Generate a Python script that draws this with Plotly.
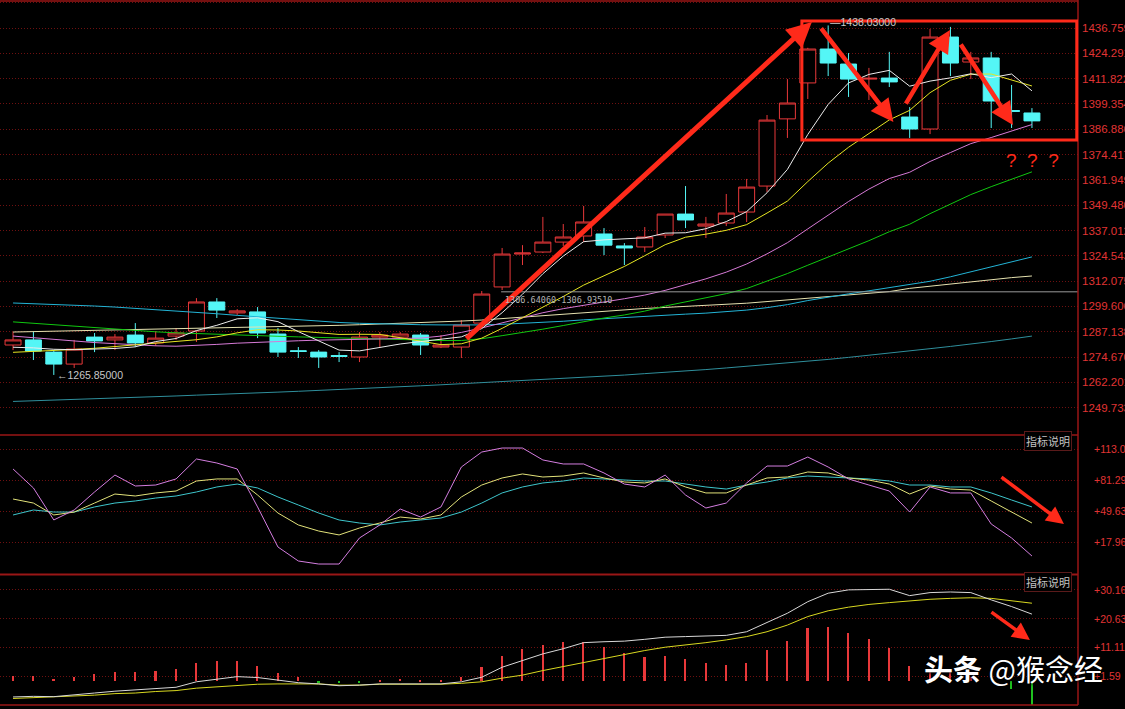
import plotly.graph_objects as go
from plotly.subplots import make_subplots

# bar number of each daily candle (left -> right)
bars = list(range(51))

opens = [1280.6, 1283.1, 1277.1, 1271.2, 1284.5, 1283.1, 1285.5, 1281.6, 1285.0, 1287.5,
         1301.8, 1296.4, 1296.9, 1286.0, 1277.8, 1277.1, 1275.4, 1274.7, 1284.5, 1284.5,
         1285.5, 1279.6, 1279.6, 1291.4, 1309.2, 1325.4, 1326.4, 1331.3, 1334.3, 1335.3,
         1329.4, 1328.9, 1334.8, 1345.1, 1339.2, 1340.7, 1346.1, 1358.9, 1392.0, 1409.7,
         1426.4, 1419.0, 1411.6, 1412.1, 1392.9, 1387.0, 1432.3, 1420.0, 1422.0, 1396.1, 1394.9]
highs = [1287.0, 1287.0, 1278.1, 1283.1, 1286.5, 1286.0, 1291.4, 1287.5, 1288.9, 1303.7,
         1303.7, 1298.3, 1299.3, 1289.0, 1279.6, 1278.1, 1277.1, 1287.0, 1287.0, 1287.0,
         1286.5, 1285.5, 1292.9, 1307.2, 1328.4, 1329.8, 1343.7, 1340.2, 1349.1, 1338.2,
         1330.8, 1338.7, 1345.1, 1358.9, 1343.7, 1355.0, 1362.4, 1393.9, 1411.6, 1427.0,
         1438.03, 1424.4, 1417.1, 1425.0, 1397.8, 1436.3, 1437.3, 1425.0, 1425.0, 1408.7, 1397.3]
lows = [1278.1, 1273.2, 1265.85, 1269.3, 1277.1, 1278.1, 1279.6, 1280.1, 1283.1, 1282.1,
        1293.9, 1295.4, 1284.0, 1274.7, 1274.2, 1269.3, 1272.2, 1272.2, 1279.6, 1283.1,
        1275.7, 1279.1, 1274.2, 1289.9, 1307.7, 1320.0, 1325.9, 1329.4, 1331.3, 1324.9,
        1320.0, 1326.4, 1333.3, 1338.2, 1333.3, 1339.2, 1341.2, 1356.0, 1382.6, 1401.8,
        1413.1, 1402.8, 1401.3, 1407.7, 1382.6, 1384.5, 1413.1, 1411.6, 1387.5, 1387.5, 1387.5]
closes = [1283.1, 1277.6, 1271.2, 1278.6, 1282.6, 1284.5, 1281.6, 1284.0, 1286.5, 1301.8,
          1297.8, 1297.4, 1286.5, 1277.1, 1277.4, 1274.7, 1275.0, 1284.5, 1285.5, 1286.0,
          1280.6, 1280.6, 1290.4, 1305.7, 1325.4, 1325.9, 1331.3, 1333.8, 1341.2, 1329.8,
          1328.4, 1333.8, 1345.1, 1342.2, 1340.2, 1345.6, 1358.4, 1391.4, 1399.8, 1426.4,
          1419.5, 1411.6, 1412.0, 1410.2, 1387.0, 1432.3, 1419.5, 1422.0, 1400.8, 1395.7, 1391.0]

# moving averages
ma5 = [1279.5, 1279.2, 1278.5, 1278.3, 1278.6, 1278.9, 1279.7, 1282.3, 1283.8, 1287.7,
       1290.3, 1293.5, 1294.0, 1292.1, 1287.2, 1282.6, 1278.1, 1277.7, 1279.4, 1281.1,
       1282.3, 1283.4, 1284.6, 1288.7, 1296.5, 1305.6, 1315.7, 1324.4, 1331.5, 1332.4,
       1332.9, 1333.4, 1335.7, 1335.9, 1337.9, 1341.4, 1346.3, 1355.6, 1367.1, 1384.3,
       1399.1, 1409.7, 1413.9, 1415.9, 1408.1, 1410.6, 1412.2, 1414.2, 1412.3, 1414.1, 1405.8]
ma10 = [1277.0, 1277.4, 1277.8, 1278.4, 1279.0, 1279.8, 1280.6, 1281.5, 1282.4, 1283.2,
        1284.6, 1286.6, 1288.1, 1288.0, 1287.5, 1286.5, 1285.8, 1285.9, 1285.8, 1284.2,
        1282.5, 1280.8, 1281.2, 1284.0, 1288.8, 1294.0, 1299.6, 1304.5, 1310.1, 1314.5,
        1319.3, 1324.6, 1330.0, 1333.7, 1335.2, 1337.1, 1339.9, 1345.6, 1351.5, 1361.1,
        1370.2, 1378.0, 1384.7, 1391.5, 1396.2, 1404.9, 1411.0, 1414.0, 1414.1, 1411.1, 1408.2]
ma20 = [1285.0, 1284.3, 1283.5, 1282.6, 1281.8, 1281.2, 1280.6, 1280.2, 1280.0, 1280.3,
        1280.9, 1281.5, 1282.0, 1282.4, 1282.7, 1283.0, 1283.2, 1283.4, 1283.6, 1283.7,
        1284.0, 1285.0, 1286.8, 1289.0, 1291.5, 1294.0, 1296.5, 1298.5, 1300.3, 1301.8,
        1303.4, 1305.2, 1307.5, 1310.3, 1313.2, 1316.5, 1320.5, 1325.5, 1331.0, 1337.8,
        1344.7, 1351.3, 1357.4, 1362.6, 1365.7, 1371.0, 1375.4, 1379.8, 1382.8, 1386.1, 1389.2]
ma30 = [1292.0, 1291.3, 1290.5, 1289.8, 1289.0, 1288.3, 1287.7, 1287.1, 1286.6, 1286.2,
        1285.8, 1285.5, 1285.2, 1284.9, 1284.6, 1284.3, 1284.0, 1283.7, 1283.4, 1283.2,
        1283.0, 1282.8, 1282.8, 1283.7, 1285.2, 1286.7, 1288.4, 1290.2, 1292.2, 1293.9,
        1295.4, 1297.3, 1299.8, 1301.9, 1303.8, 1305.9, 1308.4, 1312.0, 1315.8, 1319.9,
        1324.0, 1327.8, 1332.0, 1336.4, 1340.1, 1345.3, 1350.1, 1354.7, 1358.6, 1362.2, 1365.9]
ma60 = [1301.3, 1301.0, 1300.6, 1300.2, 1299.8, 1299.3, 1298.7, 1298.0, 1297.3, 1296.6,
        1296.0, 1295.2, 1294.5, 1293.9, 1293.1, 1292.3, 1291.7, 1291.3, 1291.0, 1290.8,
        1290.6, 1290.5, 1290.4, 1290.5, 1290.8, 1291.2, 1291.7, 1292.3, 1293.0, 1293.6,
        1294.3, 1294.8, 1295.3, 1295.8, 1296.3, 1296.9, 1297.8, 1299.0, 1300.5, 1302.5,
        1304.3, 1305.8, 1307.3, 1308.8, 1310.3, 1312.0, 1314.2, 1316.6, 1319.0, 1321.5, 1324.0]
ma120 = [1287.0, 1287.2, 1287.3, 1287.5, 1287.6, 1287.8, 1288.0, 1288.2, 1288.4, 1288.6,
         1288.8, 1289.0, 1289.3, 1289.5, 1289.8, 1290.0, 1290.3, 1290.6, 1290.9, 1291.2,
         1291.5, 1291.9, 1292.4, 1292.9, 1293.6, 1294.3, 1295.0, 1295.8, 1296.6, 1297.4,
         1298.0, 1298.6, 1299.1, 1299.6, 1300.1, 1300.6, 1301.2, 1302.0, 1302.8, 1303.6,
         1304.4, 1305.2, 1306.0, 1306.9, 1308.5, 1309.6, 1310.8, 1311.9, 1312.9, 1313.8, 1314.6]
ma250 = [1252.8, 1253.1, 1253.5, 1253.8, 1254.2, 1254.5, 1254.8, 1255.2, 1255.5, 1255.9,
         1256.2, 1256.6, 1257.0, 1257.4, 1257.8, 1258.2, 1258.6, 1259.1, 1259.5, 1260.0,
         1260.5, 1261.0, 1261.5, 1262.0, 1262.5, 1263.0, 1263.6, 1264.2, 1264.8, 1265.3,
         1265.8, 1266.5, 1267.1, 1267.8, 1268.5, 1269.3, 1270.1, 1271.0, 1271.8, 1272.7,
         1273.5, 1274.5, 1275.5, 1276.5, 1277.6, 1278.8, 1279.9, 1281.0, 1282.3, 1283.6, 1285.0]

# KDJ panel
kdj_k = [61.9, 57.8, 45.6, 48.6, 57.8, 67.0, 65.0, 68.1, 70.1, 80.3,
         82.4, 82.4, 66.0, 47.6, 35.4, 29.2, 25.2, 32.3, 37.4, 43.5,
         41.5, 45.6, 64.0, 76.2, 83.4, 87.5, 84.4, 85.4, 88.5, 83.4,
         79.3, 78.3, 82.4, 74.2, 68.1, 68.1, 76.2, 83.4, 84.4, 89.5,
         88.5, 83.4, 81.3, 77.2, 67.0, 75.2, 72.1, 71.1, 59.9, 48.6, 37.4]
kdj_d = [45.6, 50.7, 48.6, 48.6, 53.8, 57.8, 59.9, 62.9, 65.0, 69.1,
         74.2, 77.2, 73.2, 64.0, 55.8, 47.6, 40.5, 37.4, 35.4, 38.4,
         40.5, 42.5, 48.6, 57.8, 68.1, 74.2, 78.3, 80.3, 83.4, 82.4,
         81.3, 80.3, 80.3, 77.2, 74.2, 72.1, 76.2, 79.3, 83.4, 85.4,
         84.4, 83.4, 82.4, 80.3, 76.2, 76.2, 74.2, 74.2, 68.1, 60.9, 53.8]
kdj_j = [92.6, 73.2, 40.5, 50.7, 69.1, 86.4, 75.2, 76.2, 82.4, 102.8,
         98.7, 92.6, 53.8, 12.9, -1.4, -4.5, -4.5, 22.1, 35.4, 51.7,
         43.5, 53.8, 94.6, 109.9, 114.0, 114.0, 101.8, 97.7, 97.7, 88.5,
         77.2, 74.2, 86.4, 66.0, 52.7, 57.8, 78.3, 95.6, 95.6, 104.8,
         94.6, 82.4, 76.2, 70.1, 48.6, 74.2, 68.1, 68.1, 36.4, 22.1, 3.7]

# MACD panel
dif = [-5.1, -4.9, -5.0, -4.3, -3.8, -3.2, -2.8, -2.2, -1.9, -0.1,
       0.8, 1.6, 1.3, 0.5, -0.4, -0.8, -1.4, -1.2, -0.8, -0.8,
       -0.8, -0.8, -0.1, 1.4, 4.7, 6.9, 9.1, 10.8, 12.8, 13.1,
       13.3, 13.9, 14.6, 14.8, 15.0, 15.2, 16.4, 19.4, 22.5, 26.3,
       29.1, 30.2, 30.4, 30.4, 28.3, 29.3, 29.5, 29.3, 26.9, 24.7, 22.2]
dea = [-5.6, -5.3, -5.2, -4.9, -4.5, -4.0, -3.8, -3.3, -3.0, -2.2,
       -1.7, -1.2, -0.9, -0.8, -0.8, -0.8, -1.2, -1.2, -0.9, -0.9,
       -0.9, -0.9, -0.6, -0.1, 1.1, 2.1, 3.6, 4.9, 6.2, 7.6,
       9.0, 10.2, 11.3, 12.0, 12.8, 13.7, 14.8, 16.4, 18.6, 21.4,
       23.3, 24.5, 25.4, 26.0, 26.6, 27.1, 27.4, 27.6, 27.4, 26.6, 25.8]
macd_hist = [1.8, 1.8, 0.8, 1.5, 2.5, 3.2, 3.2, 3.6, 4.0, 6.2,
             6.9, 6.9, 5.1, 2.9, 1.4, -0.3, -0.5, -0.3, 0.2, 0.8,
             0.5, 0.2, 1.5, 4.7, 8.4, 10.7, 12.0, 13.1, 13.1, 11.5,
             9.3, 8.2, 8.5, 7.3, 6.2, 5.4, 6.2, 10.4, 13.3, 17.5,
             18.1, 16.1, 13.9, 10.9, 5.1, 4.0, 3.0, 1.5, 0.0, -2.5, -7.7]

# axis tick labels
price_ticks = [1249.7332, 1262.2016, 1274.6701, 1287.1385, 1299.6069, 1312.0754,
               1324.5438, 1337.0122, 1349.4807, 1361.9491, 1374.4175, 1386.8860,
               1399.3544, 1411.8228, 1424.2913, 1436.7597, 1449.2281]
kdj_ticks = [113.0, 81.29, 49.63, 17.96]
kdj_labels = ["+113.0", "+81.29", "+49.63", "+17.96"]
macd_ticks = [30.16, 20.63, 11.11, 1.59]

range_level = 1306.8  # drawn horizontal level "1306.64060-1306.93510"

BG = "#000000"
UP = "#e8383a"
DOWN = "#54f6f6"
GRID = "#6e1010"
FRAME = "#9a1616"
AXIS_TXT = "#e03434"

fig = make_subplots(rows=3, cols=1, shared_xaxes=True, vertical_spacing=0)

fig.add_trace(go.Candlestick(
    x=bars, open=opens, high=highs, low=lows, close=closes,
    increasing=dict(line=dict(color=UP, width=1), fillcolor=BG),
    decreasing=dict(line=dict(color=DOWN, width=1), fillcolor=DOWN),
    whiskerwidth=0, hoverinfo="skip", showlegend=False,
), row=1, col=1)

ma_lines = [
    (ma250, "#2f8f9c"),
    (ma120, "#e6e2b0"),
    (ma60, "#23b4d6"),
    (ma30, "#10c810"),
    (ma20, "#d67ad6"),
    (ma10, "#e6e622"),
    (ma5, "#ececec"),
]
for vals, col in ma_lines:
    fig.add_trace(go.Scatter(x=bars, y=vals, mode="lines",
                             line=dict(color=col, width=1), hoverinfo="skip"),
                  row=1, col=1)

# horizontal level line from bar 24 to the right edge
fig.add_trace(go.Scatter(x=[23.95, 60], y=[range_level, range_level], mode="lines",
                         line=dict(color="#9a9a9a", width=1), hoverinfo="skip"),
              row=1, col=1)

for vals, col in [(kdj_d, "#3ec6cc"), (kdj_k, "#e2e27a"), (kdj_j, "#d47ee0")]:
    fig.add_trace(go.Scatter(x=bars, y=vals, mode="lines",
                             line=dict(color=col, width=1), hoverinfo="skip"),
                  row=2, col=1)

fig.add_trace(go.Bar(x=bars, y=macd_hist, width=0.08,
                     marker=dict(color=[UP if v >= 0 else "#1fc01f" for v in macd_hist],
                                 line=dict(width=0)),
                     hoverinfo="skip"), row=3, col=1)
fig.add_trace(go.Scatter(x=bars, y=dea, mode="lines",
                         line=dict(color="#d8d820", width=1), hoverinfo="skip"), row=3, col=1)
fig.add_trace(go.Scatter(x=bars, y=dif, mode="lines",
                         line=dict(color="#d8d8d8", width=1), hoverinfo="skip"), row=3, col=1)

H = 705.0  # plot height in px
fig.update_layout(
    width=1125, height=709,
    paper_bgcolor=BG, plot_bgcolor=BG,
    margin=dict(l=0, r=47, t=0, b=4, autoexpand=False),
    showlegend=False,
    boxgap=0.1, boxgroupgap=0.13,
    bargap=0,
    font=dict(family="Liberation Sans, Arial, sans-serif"),
)
fig.update_xaxes(range=[-0.64, 52.26], showgrid=False, zeroline=False,
                 showticklabels=False, showline=False, ticks="",
                 rangeslider_visible=False, automargin=False)

yax = dict(side="right", showgrid=True, gridcolor=GRID, griddash="1px,2px", gridwidth=1,
           zeroline=False, showline=False, ticks="", automargin=False,
           tickfont=dict(color=AXIS_TXT, size=11.5))
fig.update_yaxes(**yax)
fig.update_yaxes(row=1, col=1, domain=[1 - 435 / H, 1 - 1 / H], range=[1236.27, 1450.06],
                 tickvals=price_ticks, ticktext=[f"{v:.4f}" for v in price_ticks],
                 ticklabelstandoff=3)
fig.update_yaxes(row=2, col=1, domain=[1 - 574 / H, 1 - 435 / H], range=[-14.69, 127.3],
                 tickvals=kdj_ticks, ticktext=kdj_labels, ticklabelstandoff=15,
                 tickfont=dict(size=10.5))
fig.update_yaxes(row=3, col=1, domain=[0, 1 - 575 / H], range=[-7.75, 35.1],
                 tickvals=macd_ticks, ticktext=[f"+{v:.2f}" for v in macd_ticks],
                 ticklabelstandoff=15, tickfont=dict(size=10.5))

# panel frames
frame = []
for py, w in [(1, 1.5), (435, 1.5), (574.5, 2), (705, 1.5)]:
    frame.append(dict(type="line", xref="paper", yref="paper", x0=0, x1=1,
                      y0=1 - py / H, y1=1 - py / H, line=dict(color=FRAME, width=w)))
frame.append(dict(type="line", xref="paper", yref="paper", x0=1, x1=1, y0=0, y1=1,
                  line=dict(color=FRAME, width=1.5)))
# red box round the recent range
frame.append(dict(type="rect", xref="x", yref="y", x0=38.71, x1=52.2, y0=1381.6, y1=1440.2,
                  line=dict(color="#ff2a1a", width=3)))
fig.update_layout(shapes=frame)

ARROW = "#ff2a1a"
# (tail bar, tail value, head bar, head value, width, x axis, y axis)
arrows = [
    (22.18, 1283.1, 39.2, 1439.7, 5, "x", "y"),
    (39.6, 1437.3, 43.2, 1390.5, 4.5, "x", "y"),
    (43.77, 1398.8, 45.98, 1435.8, 4.5, "x", "y"),
    (46.46, 1429.4, 49.07, 1389.0, 4.5, "x", "y"),
    (48.43, 85.4, 51.57, 36.4, 3.5, "x2", "y2"),
    (47.94, 23.2, 49.9, 13.7, 3.5, "x3", "y3"),
]
notes = []
for tx, ty, hx, hy, w, xr, yr in arrows:
    notes.append(dict(x=hx, y=hy, ax=tx, ay=ty, xref=xr, yref=yr, axref=xr, ayref=yr,
                      text="", showarrow=True, arrowhead=2, arrowsize=1,
                      arrowwidth=w, arrowcolor=ARROW, standoff=0))

label_font = dict(color="#c8c8c8", size=10.5, family="Liberation Sans, Arial, sans-serif")
box_font = dict(color="#c4c4c4", size=11, family="Noto Sans CJK SC")
notes += [
    dict(x=40, y=1438.03, xref="x", yref="y", text="—1438.03000", showarrow=False,
         xanchor="left", yshift=3, font=label_font),
    dict(x=2, y=1265.85, xref="x", yref="y", text="←1265.85000", showarrow=False,
         xanchor="left", xshift=1, font=label_font),
    dict(x=24.05, y=range_level, xref="x", yref="y", text="1306.64060-1306.93510",
         showarrow=False, xanchor="left", yanchor="top", yshift=-1,
         font=dict(color="#b4b4b4", size=8.5, family="DejaVu Sans Mono, monospace")),
    dict(x=50.05, y=1371.7, xref="x", yref="y", text="?  ?  ?", showarrow=False,
         xanchor="center", font=dict(color="#ff2a1a", size=19)),
    dict(x=1048 / 1078, y=1 - 441 / H, xref="paper", yref="paper", text="指标说明",
         showarrow=False, xanchor="center", yanchor="middle", font=box_font,
         bgcolor=BG, bordercolor="#5a1a1a", borderwidth=1, borderpad=1),
    dict(x=1048 / 1078, y=1 - 582 / H, xref="paper", yref="paper", text="指标说明",
         showarrow=False, xanchor="center", yanchor="middle", font=box_font,
         bgcolor=BG, bordercolor="#5a1a1a", borderwidth=1, borderpad=1),
    dict(x=1013 / 1078, y=1 - 668 / H, xref="paper", yref="paper",
         text="<b>头条</b> @猴念经", showarrow=False, xanchor="center", yanchor="middle",
         font=dict(color="#ffffff", size=29, family="Noto Sans CJK SC",
                   shadow="1px 1px 3px #000000")),
]
fig.update_layout(annotations=notes)

# drop the page's default body margin so the chart sits at the window's corner
fig.write_html("out.html", config={"displayModeBar": False},
               post_script="document.body.style.margin='0';")
